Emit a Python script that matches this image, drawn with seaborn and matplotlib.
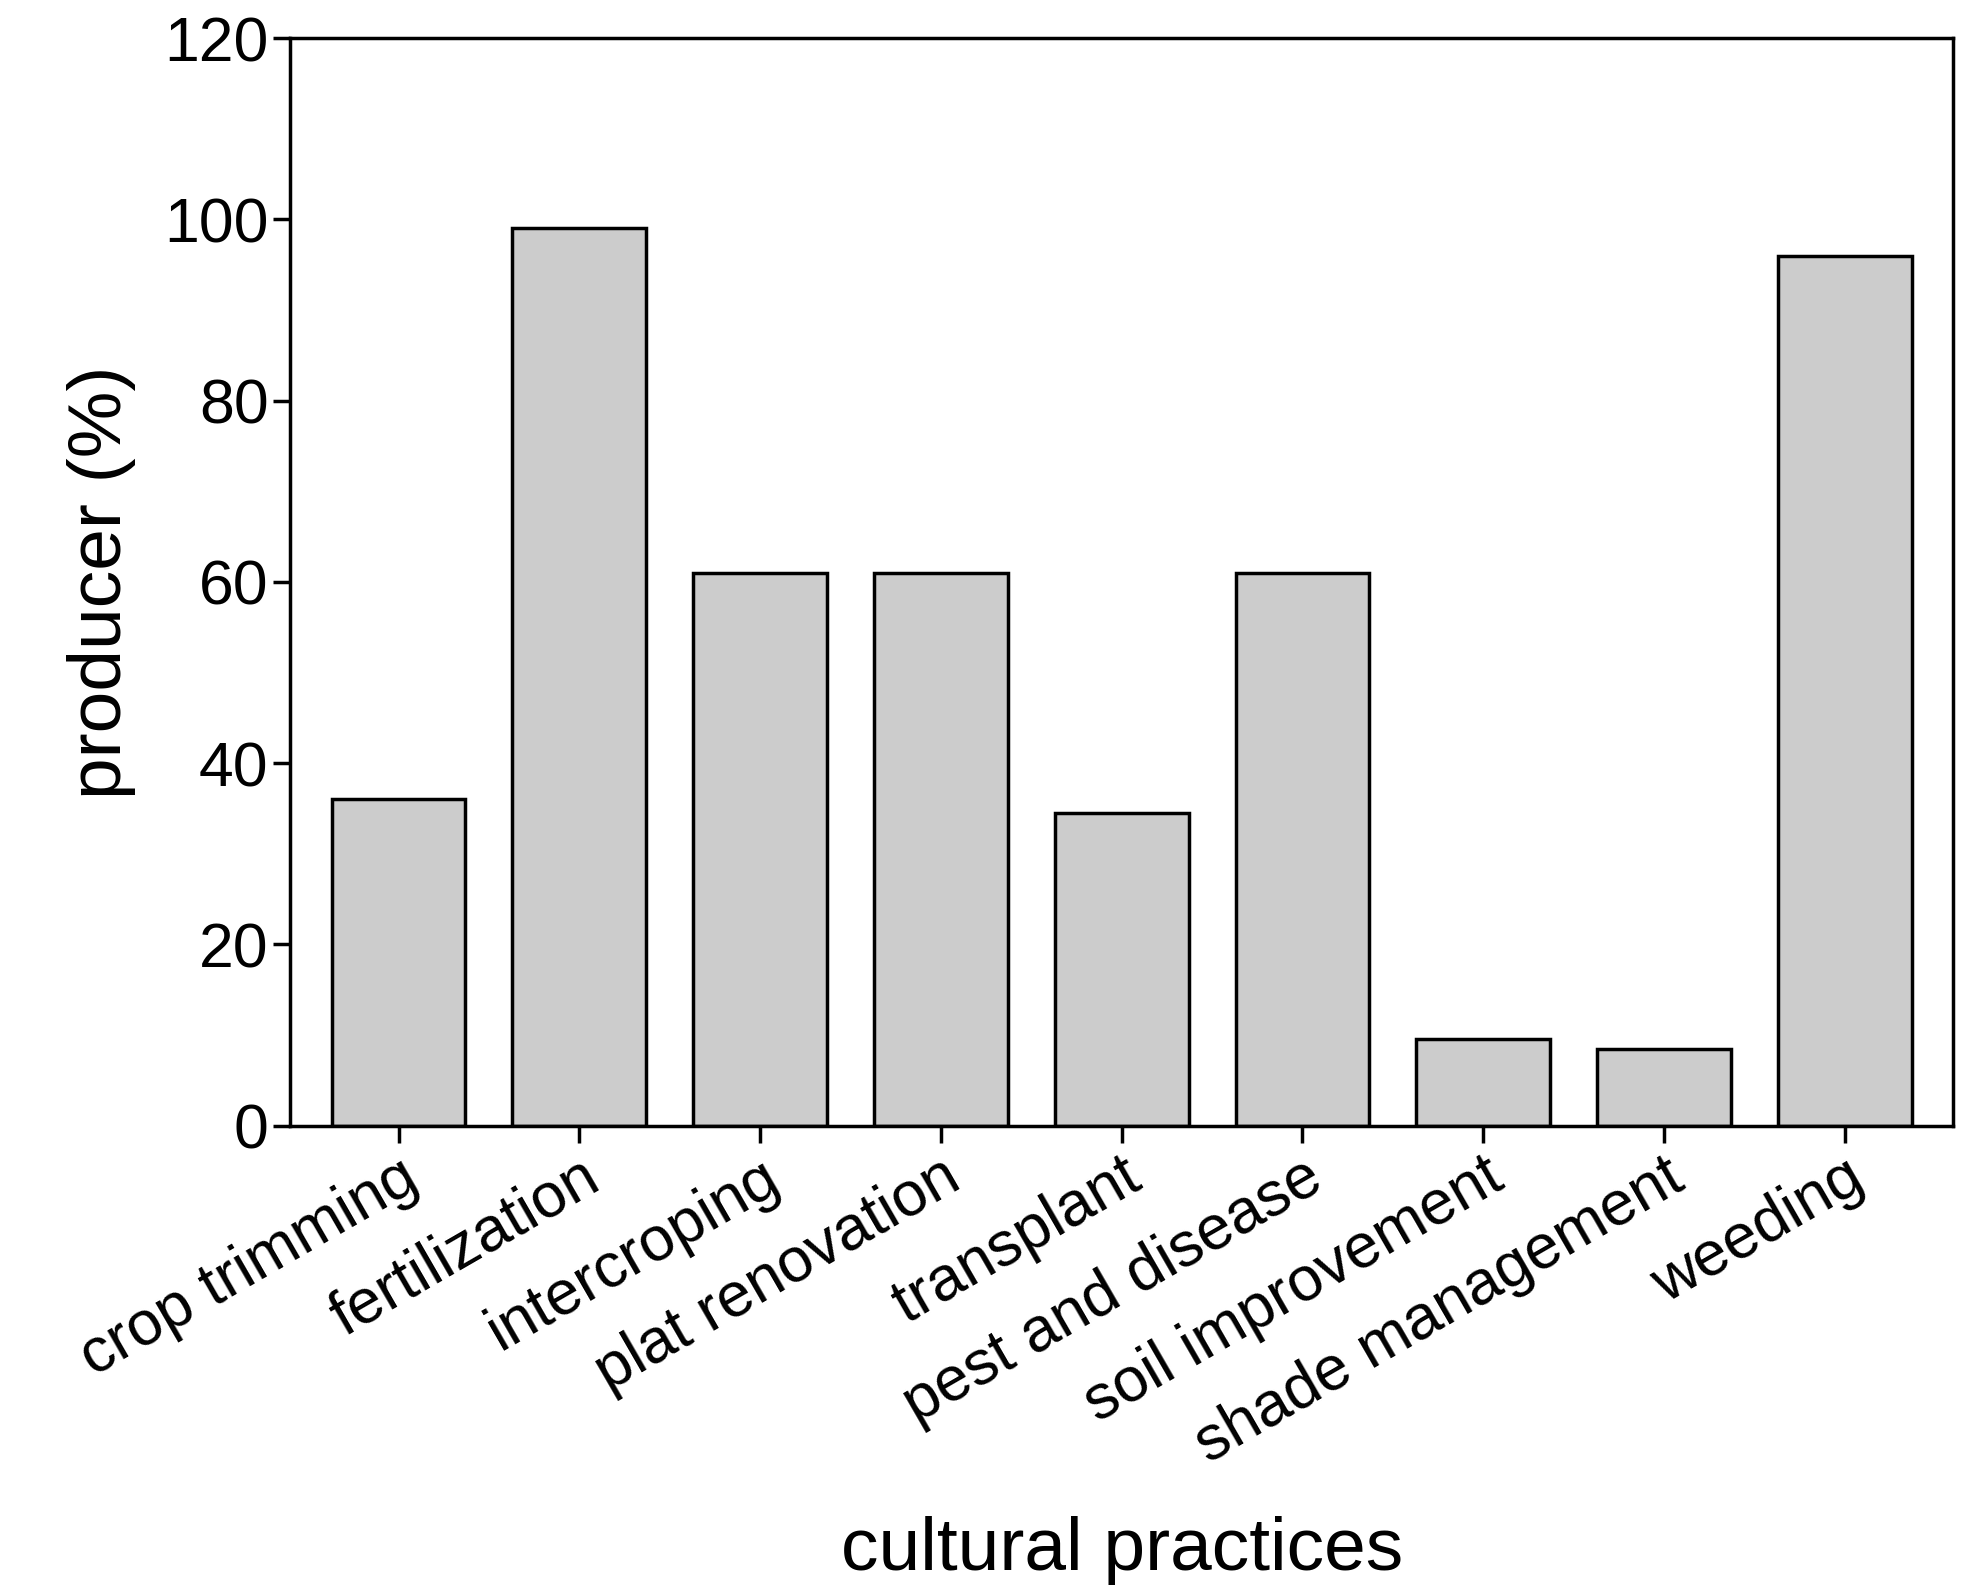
import matplotlib
matplotlib.use("Agg")
import matplotlib.pyplot as plt
import seaborn as sns
import pandas as pd

practices = ["crop trimming", "fertilization", "intercroping", "plat renovation",
             "transplant", "pest and disease", "soil improvement",
             "shade management", "weeding"]
producer = [36, 99, 61, 61, 34.5, 61, 9.5, 8.5, 96]

df = pd.DataFrame({"practice": practices, "producer": producer})

sns.set_style("ticks")
plt.rcParams["font.family"] = ["Liberation Sans", "DejaVu Sans"]
plt.rcParams["text.color"] = "black"
plt.rcParams["axes.labelcolor"] = "black"
plt.rcParams["xtick.color"] = "black"
plt.rcParams["ytick.color"] = "black"

fig = plt.figure(figsize=(19.73, 15.92), dpi=100)
ax = fig.add_axes([0.147, 0.293, 0.843, 0.683])
sns.barplot(data=df, x="practice", y="producer", color="#cccccc",
            edgecolor="black", linewidth=2.5, width=0.74, saturation=1, ax=ax)

ax.set_ylim(0, 120)
ax.set_xlim(-0.6, 8.6)
ax.set_yticks(range(0, 121, 20))
ax.tick_params(axis="both", labelsize=45, width=2.5, length=12, direction="out")
ax.set_xticks(range(len(practices)))
ax.set_xticklabels(practices, rotation=30, ha="right", rotation_mode="anchor")
for s in ax.spines.values():
    s.set_linewidth(2.5)
    s.set_color("black")
ax.set_xlabel("cultural practices", fontsize=54, labelpad=30)
ax.set_ylabel("producer (%)", fontsize=54, labelpad=20)

fig.savefig("out.png", dpi=100)
